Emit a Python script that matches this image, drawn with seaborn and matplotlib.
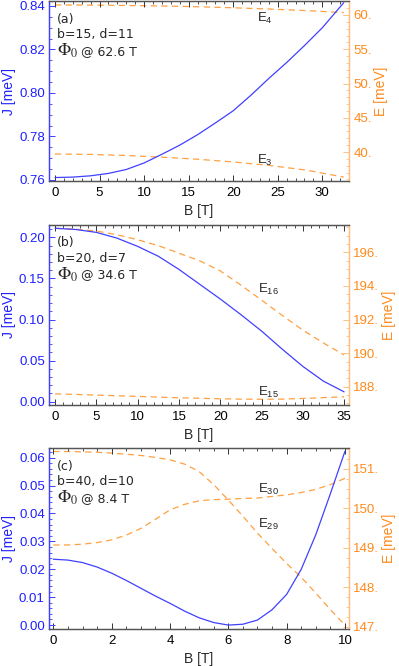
import matplotlib
matplotlib.use("Agg")
import matplotlib.pyplot as plt
import matplotlib.ticker as ticker
import seaborn as sns
import pandas as pd

sns.set_style("ticks")
plt.rcParams["font.family"] = ["Liberation Sans", "DejaVu Sans"]
plt.rcParams["mathtext.fontset"] = "custom"
plt.rcParams["mathtext.rm"] = "Liberation Sans"
plt.rcParams["mathtext.it"] = "Liberation Sans:italic"

BLUE = "#4040ff"
BLUE_TXT = "#1f1fff"
ORANGE = "#ffa040"
ORANGE_TXT = "#ff8a1c"
ORANGE_SPINE = "#ffbf80"

# panel (a): b=15, d=11
a_BJ = [0, 2, 4, 6, 8, 10, 12, 14, 16, 18, 20, 22, 24, 26, 28, 30, 32.4]
a_J = [0.7611, 0.7613, 0.7619, 0.7630, 0.7648, 0.7678, 0.7718, 0.7760, 0.7808,
       0.7862, 0.7918, 0.7990, 0.8067, 0.8140, 0.8218, 0.8300, 0.8415]
a_BE = [0, 4, 8, 12, 16, 20, 24, 28, 32.4]
a_E4 = [61.46, 61.44, 61.39, 61.31, 61.2, 61.05, 60.87, 60.65, 60.35]
a_E3 = [39.71, 39.65, 39.5, 39.25, 38.95, 38.55, 38.05, 37.4, 36.35]

# panel (b): b=20, d=7
b_B = [0, 2.5, 5, 7.5, 10, 12.5, 15, 17.5, 20, 22.5, 25, 27.5, 30, 32.5, 35]
b_J = [0.211, 0.2095, 0.206, 0.199, 0.189, 0.177, 0.161, 0.143, 0.125, 0.106,
       0.086, 0.064, 0.043, 0.025, 0.012]
b_E16 = [197.43, 197.38, 197.27, 197.05, 196.75, 196.4, 195.95, 195.5, 194.9,
         194.05, 193.16, 192.25, 191.37, 190.6, 189.89]
b_E15 = [187.57, 187.54, 187.5, 187.46, 187.42, 187.38, 187.34, 187.31, 187.28,
         187.26, 187.25, 187.26, 187.3, 187.35, 187.4]

# panel (c): b=40, d=10
c_B = [0, 0.5, 1, 1.5, 2, 2.5, 3, 3.5, 4, 4.5, 5, 5.5, 6, 6.5, 7, 7.5, 8, 8.5,
       9, 9.5, 10]
c_J = [0.0236, 0.0233, 0.0224, 0.0208, 0.0186, 0.0160, 0.0132, 0.0104, 0.0078,
       0.0050, 0.0026, 0.0009, 0.0000, 0.0003, 0.0018, 0.0055, 0.0110, 0.0200,
       0.0324, 0.0471, 0.0623]
c_E29 = [151.44, 151.44, 151.43, 151.42, 151.40, 151.37, 151.34, 151.29, 151.23,
         151.12, 150.93, 150.6, 150.21, 149.8, 149.37, 148.98, 148.6, 148.25,
         147.85, 147.43, 147.04]
c_E30 = [149.07, 149.07, 149.09, 149.13, 149.2, 149.32, 149.49, 149.72, 149.96,
         150.1, 150.19, 150.22, 150.23, 150.25, 150.26, 150.3, 150.34, 150.4,
         150.48, 150.6, 150.76]

panels = [
    dict(BJ=a_BJ, J=a_J, BE=a_BE, E=[a_E4, a_E3], tag="(a)", bd="b=15, d=11",
         phi="62.6", xlim=(-0.67, 33.0), jlim=(0.7595, 0.8423), elim=(35.77, 62.04),
         xmaj=5, xmin=1, jmaj=0.02, jmin=0.005, emaj=5, emin=1,
         labels=[("E$_4$", 22.7, 59.45), ("E$_3$", 22.7, 38.7)],
         pos=[0.1228, 0.7282, 0.752, 0.2703]),
    dict(BJ=b_B, J=b_J, BE=b_B, E=[b_E16, b_E15], tag="(b)", bd="b=20, d=7",
         phi="34.6", xlim=(-0.73, 35.6), jlim=(-0.004, 0.215), elim=(186.91, 197.63),
         xmaj=5, xmin=1, jmaj=0.05, jmin=0.01, emaj=2, emin=0.5,
         labels=[("E$_{16}$", 24.6, 193.8), ("E$_{15}$", 24.6, 187.68)],
         pos=[0.1228, 0.3919, 0.752, 0.2703]),
    dict(BJ=c_B, J=c_J, BE=c_B, E=[c_E29, c_E30], tag="(c)", bd="b=40, d=10",
         phi="8.4", xlim=(-0.15, 10.14), jlim=(-0.0014, 0.0635), elim=(146.94, 151.53),
         xmaj=2, xmin=0.5, jmaj=0.01, jmin=0.002, emaj=1, emin=0.25,
         labels=[("E$_{30}$", 7.02, 150.49), ("E$_{29}$", 7.02, 149.6)],
         pos=[0.1228, 0.0556, 0.752, 0.2718]),
]

fig = plt.figure(figsize=(3.99, 6.66), dpi=100)

for p in panels:
    ax = fig.add_axes(p["pos"])
    ax2 = ax.twinx()
    for e in p["E"]:
        de = pd.DataFrame({"B": p["BE"], "E": e})
        sns.lineplot(data=de, x="B", y="E", ax=ax2, color=ORANGE, lw=0.9)
        ax2.lines[-1].set_dashes([5, 3.5])
    dj = pd.DataFrame({"B": p["BJ"], "J": p["J"]})
    sns.lineplot(data=dj, x="B", y="J", ax=ax, color=BLUE, lw=0.9)
    ax.set_zorder(ax2.get_zorder() + 1)
    ax.patch.set_visible(False)

    ax.set_xlim(*p["xlim"])
    ax.set_ylim(*p["jlim"])
    ax2.set_ylim(*p["elim"])

    ax.xaxis.set_major_locator(ticker.MultipleLocator(p["xmaj"]))
    ax.xaxis.set_minor_locator(ticker.MultipleLocator(p["xmin"]))
    ax.yaxis.set_major_locator(ticker.MultipleLocator(p["jmaj"]))
    ax.yaxis.set_minor_locator(ticker.MultipleLocator(p["jmin"]))
    ax.yaxis.set_major_formatter(ticker.FormatStrFormatter("%.2f"))
    ax2.yaxis.set_major_locator(ticker.MultipleLocator(p["emaj"]))
    ax2.yaxis.set_minor_locator(ticker.MultipleLocator(p["emin"]))
    ax2.yaxis.set_major_formatter(ticker.FuncFormatter(lambda v, pos: f"{v:.0f}."))

    ax.tick_params(axis="x", which="both", direction="in", top=True, colors="#333333",
                   labelsize=9.5, labelcolor="black", pad=4)
    ax.tick_params(axis="x", which="major", length=4, width=0.7)
    ax.tick_params(axis="x", which="minor", length=2, width=0.6)
    ax.tick_params(axis="y", which="both", direction="in", colors=BLUE,
                   labelcolor=BLUE_TXT, labelsize=9.5, pad=3)
    ax.tick_params(axis="y", which="major", length=4, width=0.7)
    ax.tick_params(axis="y", which="minor", length=2, width=0.6)
    ax2.tick_params(axis="y", which="both", direction="in", colors=ORANGE_SPINE,
                    labelcolor=ORANGE_TXT, labelsize=9.5, pad=3)
    ax2.tick_params(axis="y", which="major", length=4, width=0.7)
    ax2.tick_params(axis="y", which="minor", length=2, width=0.6)

    for a in (ax, ax2):
        a.spines["top"].set_color("#555555")
        a.spines["bottom"].set_color("#555555")
        a.spines["left"].set_color(BLUE)
        a.spines["right"].set_color(ORANGE_SPINE)
        for s in a.spines.values():
            s.set_linewidth(0.9)

    ax.set_xlabel("B [T]", fontsize=10, labelpad=4)
    ax.set_ylabel("J [meV]", fontsize=10, color=BLUE_TXT, labelpad=2)
    ax2.set_ylabel("E [meV]", fontsize=10, color=ORANGE_TXT, labelpad=2)

    note = dict(transform=ax.transAxes, fontsize=9, va="center", family="DejaVu Sans")
    ax.text(0.027, 0.90, p["tag"], **note)
    ax.text(0.027, 0.812, p["bd"], **note)
    ax.text(0.027, 0.722, r"$\Phi_0$", transform=ax.transAxes, fontsize=12.5,
            va="center", math_fontfamily="stix")
    ax.text(0.108, 0.722, "@ " + p["phi"] + " T", **note)
    for txt, xx, yy in p["labels"]:
        ax2.text(xx, yy, txt, fontsize=9.5, ha="left", va="center")

fig.savefig("out.png", dpi=100)
